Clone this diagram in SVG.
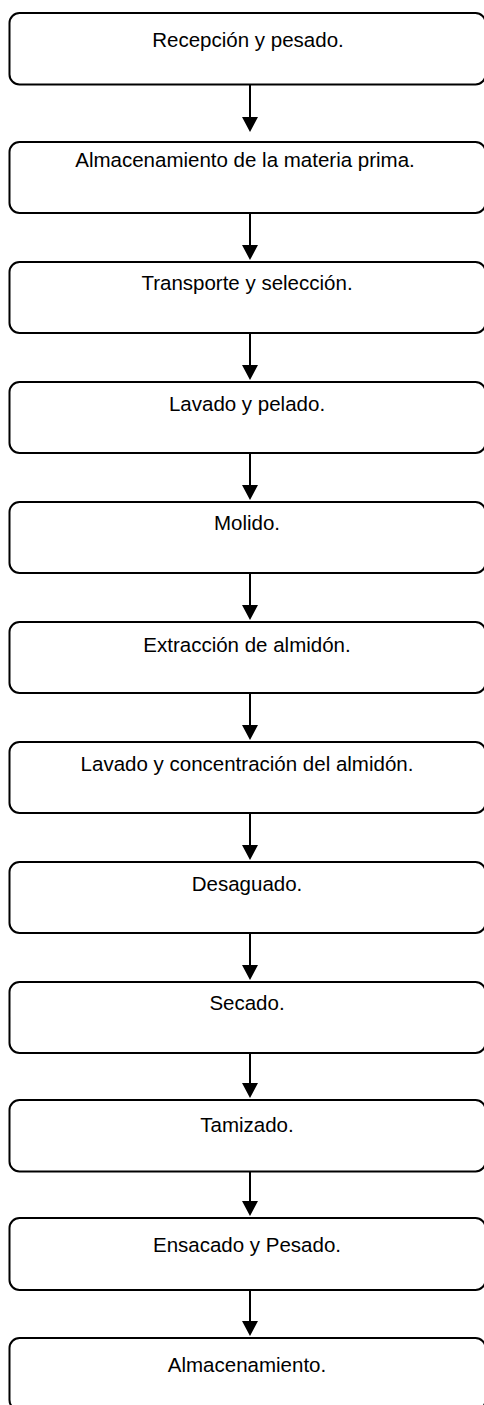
<svg xmlns="http://www.w3.org/2000/svg" width="484" height="1405" viewBox="0 0 484 1405">
<style>
.box{fill:#fff;stroke:#000;stroke-width:2}
.lbl{font-family:"Liberation Sans",Arial,sans-serif;font-size:20.5px;fill:#000;text-anchor:middle}
.conn{stroke:#000;stroke-width:2;fill:none}
</style>
<defs>
<marker id="ah" viewBox="0 0 15 16" refX="5" refY="8" markerWidth="15" markerHeight="16" markerUnits="userSpaceOnUse" orient="auto">
<path d="M0,0 L15,8 L0,16 z" fill="#000"/>
</marker>
</defs>
<rect width="484" height="1405" fill="#fff"/>
<g id="connectors">
<line class="conn" x1="250" y1="85" x2="250" y2="122" marker-end="url(#ah)"/>
<line class="conn" x1="250" y1="213" x2="250" y2="250" marker-end="url(#ah)"/>
<line class="conn" x1="250" y1="333" x2="250" y2="370" marker-end="url(#ah)"/>
<line class="conn" x1="250" y1="453" x2="250" y2="490" marker-end="url(#ah)"/>
<line class="conn" x1="250" y1="573" x2="250" y2="610" marker-end="url(#ah)"/>
<line class="conn" x1="250" y1="693" x2="250" y2="730" marker-end="url(#ah)"/>
<line class="conn" x1="250" y1="813" x2="250" y2="850" marker-end="url(#ah)"/>
<line class="conn" x1="250" y1="933" x2="250" y2="970" marker-end="url(#ah)"/>
<line class="conn" x1="250" y1="1050" x2="250" y2="1088" marker-end="url(#ah)"/>
<line class="conn" x1="250" y1="1171" x2="250" y2="1206" marker-end="url(#ah)"/>
<line class="conn" x1="250" y1="1290" x2="250" y2="1326" marker-end="url(#ah)"/>
</g>
<g id="n1"><rect class="box" x="9.5" y="13" width="476" height="71.5" rx="10"/><text class="lbl" x="248" y="47">Recepción y pesado.</text></g>
<g id="n2"><rect class="box" x="9.5" y="142" width="476" height="71" rx="10"/><text class="lbl" x="245" y="167">Almacenamiento de la materia prima.</text></g>
<g id="n3"><rect class="box" x="9.5" y="262" width="476" height="71" rx="10"/><text class="lbl" x="247" y="290">Transporte y selección.</text></g>
<g id="n4"><rect class="box" x="9.5" y="382" width="476" height="71" rx="10"/><text class="lbl" x="247" y="411">Lavado y pelado.</text></g>
<g id="n5"><rect class="box" x="9.5" y="502" width="476" height="71" rx="10"/><text class="lbl" x="247" y="530">Molido.</text></g>
<g id="n6"><rect class="box" x="9.5" y="622" width="476" height="71" rx="10"/><text class="lbl" x="247" y="652">Extracción de almidón.</text></g>
<g id="n7"><rect class="box" x="9.5" y="742" width="476" height="71" rx="10"/><text class="lbl" x="247" y="771">Lavado y concentración del almidón.</text></g>
<g id="n8"><rect class="box" x="9.5" y="862" width="476" height="71" rx="10"/><text class="lbl" x="247" y="891">Desaguado.</text></g>
<g id="n9"><rect class="box" x="9.5" y="982" width="476" height="71" rx="10"/><text class="lbl" x="247" y="1010">Secado.</text></g>
<g id="n10"><rect class="box" x="9.5" y="1100" width="476" height="71.5" rx="10"/><text class="lbl" x="247" y="1132">Tamizado.</text></g>
<g id="n11"><rect class="box" x="9.5" y="1218" width="476" height="72" rx="10"/><text class="lbl" x="247" y="1252">Ensacado y Pesado.</text></g>
<g id="n12"><rect class="box" x="9.5" y="1338" width="476" height="72" rx="10"/><text class="lbl" x="247" y="1372">Almacenamiento.</text></g>
</svg>
